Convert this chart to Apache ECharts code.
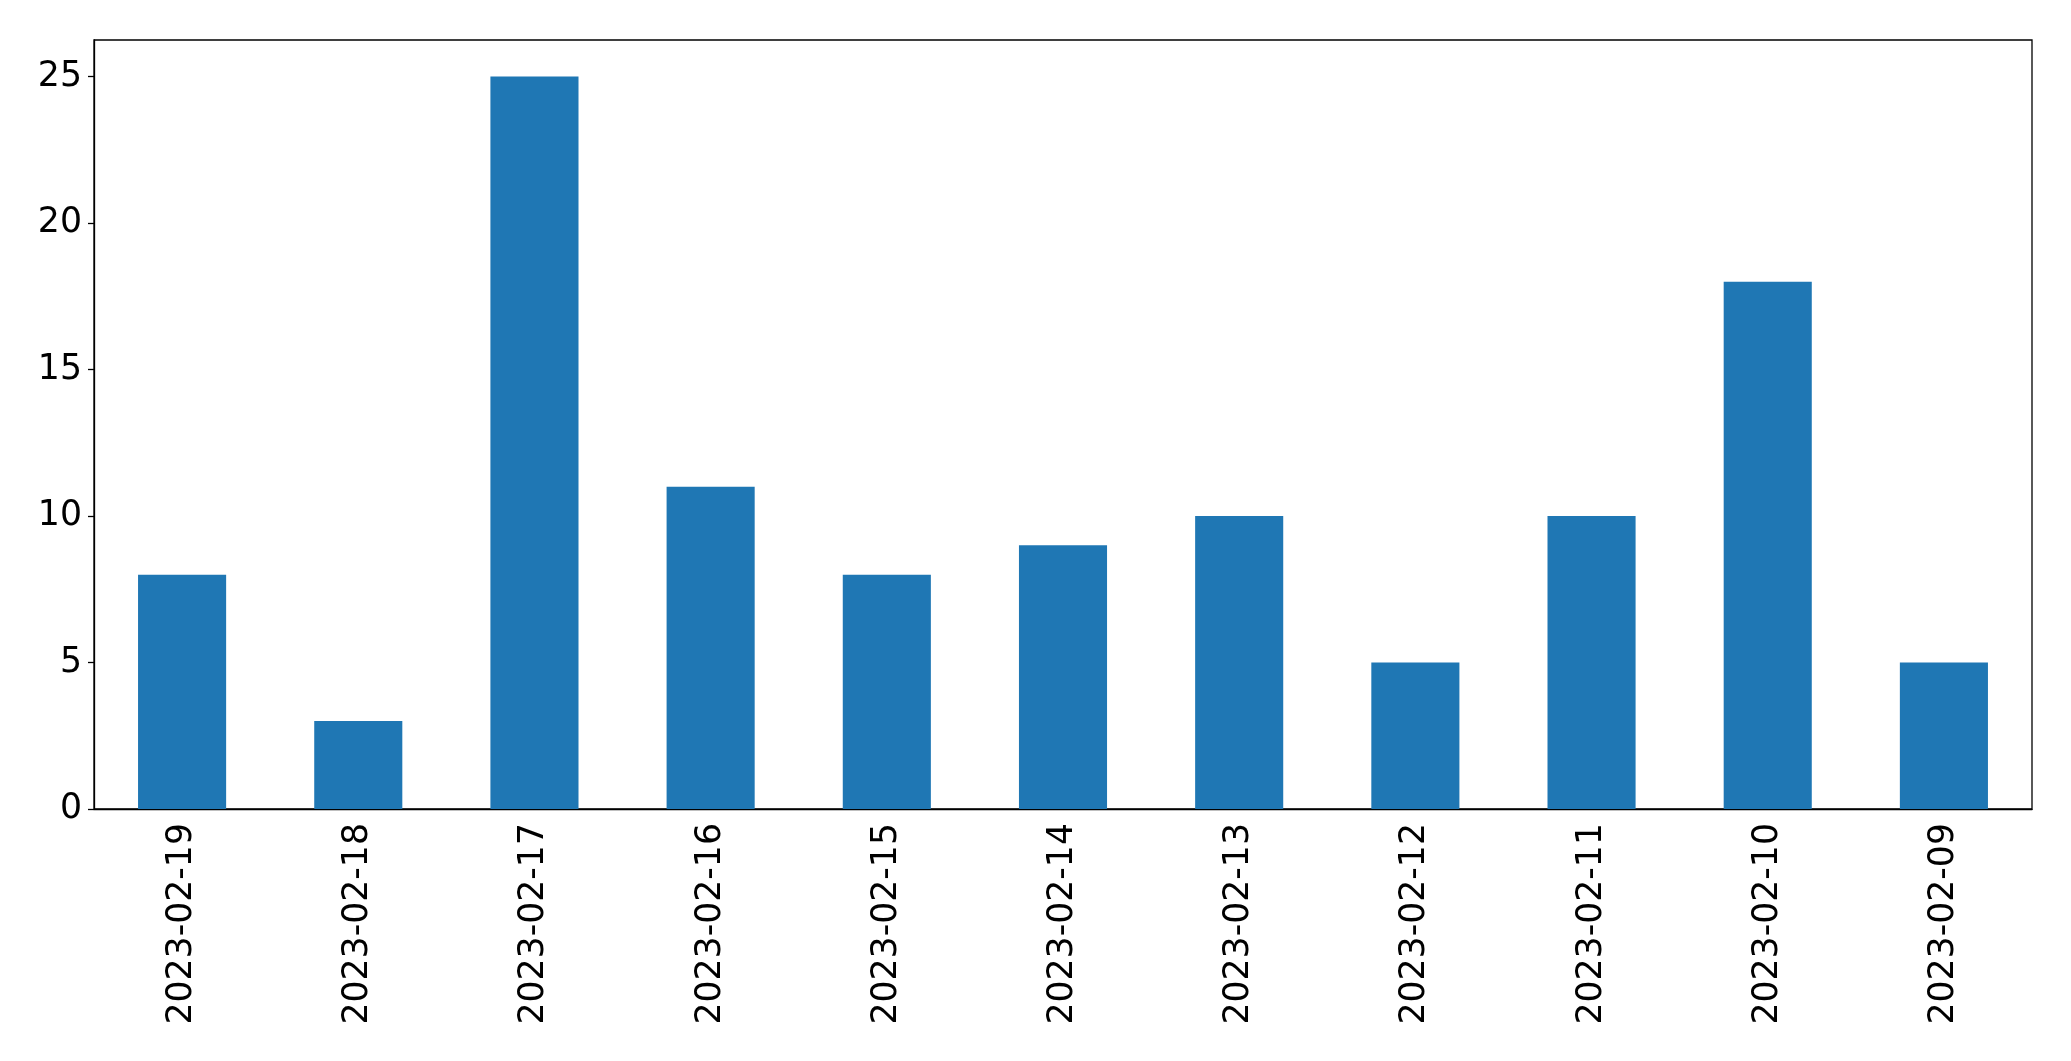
<!DOCTYPE html>
<html>
<head>
<meta charset="utf-8">
<script src="https://cdn.jsdelivr.net/npm/echarts@6/dist/echarts.min.js"></script>
<style>
html,body{margin:0;padding:0;background:#fff;}
#chart{width:2071px;height:1061px;}
</style>
</head>
<body>
<div id="chart"></div>
<script>
const categories = ["2023-02-19","2023-02-18","2023-02-17","2023-02-16","2023-02-15","2023-02-14","2023-02-13","2023-02-12","2023-02-11","2023-02-10","2023-02-09"];
const values = [8, 3, 25, 11, 8, 9, 10, 5, 10, 18, 5];
const yTicks = [0, 5, 10, 15, 20, 25];

const chart = echarts.init(document.getElementById('chart'), null, {renderer: 'canvas'});
const font = '"DejaVu Sans", sans-serif';
chart.setOption({
  animation: false,
  backgroundColor: '#fff',
  grid: {left: 94, right: 39, top: 40, bottom: 252, show: true, borderColor: '#000', borderWidth: 1.3, containLabel: false},
  xAxis: {
    type: 'category',
    data: categories,
    axisLine: {lineStyle: {color: '#000', width: 1.3}},
    axisTick: {alignWithLabel: true, length: 6, lineStyle: {color: '#000', width: 1.3}},
    axisLabel: {rotate: 90, margin: 14, fontSize: 34.7, color: '#000', fontFamily: font, interval: 0},
    splitLine: {show: false}
  },
  yAxis: {
    type: 'value',
    min: 0,
    max: 26.25,
    interval: 5,
    axisLine: {show: true, lineStyle: {color: '#000', width: 1.3}},
    axisTick: {show: true, length: 6, customValues: yTicks, lineStyle: {color: '#000', width: 1.3}},
    axisLabel: {margin: 12, fontSize: 34.7, color: '#000', fontFamily: font, customValues: yTicks},
    splitLine: {show: false}
  },
  series: [{
    type: 'bar',
    data: values,
    barWidth: '50%',
    itemStyle: {color: '#1f77b4'}
  }]
});
</script>
</body>
</html>
